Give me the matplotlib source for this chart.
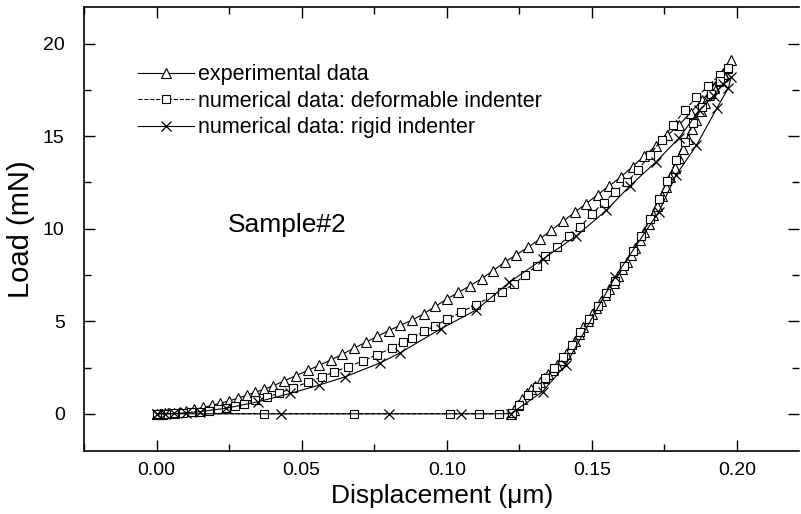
import matplotlib.pyplot as plt
from matplotlib.ticker import MultipleLocator

plt.rcParams['font.family'] = ['Liberation Sans', 'DejaVu Sans']

# experimental data: loading then unloading
exp_x = [0.000, 0.001, 0.002, 0.003, 0.004, 0.006, 0.008, 0.010, 0.013, 0.016,
         0.019, 0.022, 0.025, 0.028, 0.031, 0.034, 0.037, 0.040, 0.044, 0.048,
         0.052, 0.056, 0.060, 0.064, 0.068, 0.072, 0.076, 0.080, 0.084, 0.088,
         0.092, 0.096, 0.100, 0.104, 0.108, 0.112, 0.116, 0.120, 0.124, 0.128,
         0.132, 0.136, 0.140, 0.144, 0.148, 0.152, 0.156, 0.160, 0.164, 0.168,
         0.172, 0.176, 0.180, 0.184, 0.188, 0.192, 0.195, 0.198,
         0.1965, 0.195, 0.1935, 0.192, 0.1905, 0.189, 0.1875, 0.186, 0.1845, 0.183,
         0.1815, 0.180, 0.1785, 0.177, 0.1755, 0.174, 0.1725, 0.171, 0.1695, 0.168,
         0.1665, 0.165, 0.1635, 0.162, 0.1605, 0.159, 0.1575, 0.156, 0.1545, 0.153,
         0.1515, 0.150, 0.1485, 0.147, 0.1455, 0.144, 0.1425, 0.141, 0.1395, 0.138,
         0.1365, 0.135, 0.1335, 0.132, 0.1305, 0.129, 0.1275, 0.126, 0.1245, 0.123,
         0.122]
exp_y = [0.00, 0.00, 0.01, 0.02, 0.03, 0.06, 0.10, 0.15, 0.24, 0.34,
         0.45, 0.57, 0.70, 0.84, 1.00, 1.16, 1.33, 1.50, 1.78, 2.06,
         2.34, 2.62, 2.90, 3.22, 3.54, 3.86, 4.18, 4.50, 4.78, 5.06,
         5.40, 5.80, 6.20, 6.56, 6.92, 7.30, 7.74, 8.20, 8.60, 9.00,
         9.44, 9.92, 10.40, 10.88, 11.36, 11.84, 12.32, 12.80, 13.36, 13.92,
         14.48, 15.04, 15.60, 16.28, 16.96, 17.64, 18.40, 19.10,
         18.70, 18.35, 17.98, 17.60, 17.22, 16.80, 16.35, 15.90, 15.38, 14.85,
         14.32, 13.80, 13.28, 12.78, 12.28, 11.75, 11.22, 10.72, 10.25, 9.80,
         9.38, 8.98, 8.58, 8.20, 7.82, 7.45, 7.08, 6.75, 6.41, 6.08,
         5.74, 5.40, 5.02, 4.68, 4.32, 3.95, 3.58, 3.22, 2.91, 2.65,
         2.38, 2.15, 1.92, 1.70, 1.52, 1.32, 1.10, 0.80, 0.50, 0.20,
         0.00]

# numerical data, deformable indenter: loading, unloading, zero segment
def_x = [0.000, 0.002, 0.004, 0.006, 0.009, 0.012, 0.015, 0.018, 0.021, 0.024,
         0.027, 0.030, 0.034, 0.038, 0.042, 0.047, 0.052, 0.057, 0.061, 0.066,
         0.071, 0.076, 0.081, 0.085, 0.088, 0.092, 0.096, 0.100, 0.105, 0.110,
         0.115, 0.119, 0.123, 0.127, 0.131, 0.134, 0.138, 0.142, 0.146, 0.150,
         0.154, 0.158, 0.162, 0.166, 0.170, 0.174, 0.178, 0.182, 0.186, 0.190,
         0.194, 0.197,
         0.194, 0.191, 0.188, 0.185, 0.182, 0.179, 0.176, 0.173, 0.170, 0.167,
         0.164, 0.161, 0.158, 0.155, 0.152, 0.149, 0.146, 0.143, 0.140, 0.137,
         0.134, 0.131, 0.128, 0.125, 0.1225,
         0.118, 0.111, 0.101, 0.068, 0.037, 0.000]
def_y = [0.00, 0.00, 0.01, 0.02, 0.04, 0.07, 0.11, 0.17, 0.24, 0.32,
         0.42, 0.55, 0.72, 0.90, 1.10, 1.40, 1.70, 2.00, 2.25, 2.55,
         2.85, 3.20, 3.55, 3.90, 4.10, 4.45, 4.75, 5.10, 5.50, 5.90,
         6.30, 6.60, 7.00, 7.50, 8.00, 8.50, 9.00, 9.60, 10.10, 10.80,
         11.40, 12.00, 12.50, 13.20, 14.00, 14.80, 15.60, 16.40, 17.10, 17.70,
         18.30, 18.70,
         18.00, 17.30, 16.60, 15.70, 14.70, 13.70, 12.60, 11.60, 10.50, 9.60,
         8.80, 8.00, 7.20, 6.50, 5.80, 5.10, 4.40, 3.70, 3.05, 2.45,
         1.95, 1.45, 1.00, 0.50, 0.05,
         0.00, 0.00, 0.00, 0.00, 0.00, 0.00]

# numerical data, rigid indenter: loading, unloading, zero segment
rig_x = [0.000, 0.003, 0.006, 0.010, 0.015, 0.024, 0.035, 0.046, 0.056, 0.065,
         0.077, 0.084, 0.098, 0.110, 0.1215, 0.133, 0.1445, 0.155, 0.163, 0.172,
         0.180, 0.187, 0.192, 0.195, 0.198,
         0.197, 0.193, 0.186, 0.179, 0.173, 0.158, 0.141, 0.133, 0.122,
         0.105, 0.080, 0.043, 0.000]
rig_y = [0.00, 0.00, 0.02, 0.05, 0.12, 0.30, 0.65, 1.10, 1.55, 2.00,
         2.75, 3.30, 4.60, 5.60, 7.10, 8.35, 9.60, 11.00, 12.30, 13.60,
         14.90, 16.40, 17.20, 17.80, 18.20,
         17.60, 16.50, 14.50, 12.90, 10.90, 7.40, 2.65, 1.20, 0.00,
         0.00, 0.00, 0.00, 0.00]

labels = ["experimental data", "numerical data: deformable indenter", "numerical data: rigid indenter"]

fig = plt.figure(figsize=(8.01, 5.14), dpi=100)
ax = fig.add_axes([0.105, 0.123, 0.893, 0.864])

ax.plot(exp_x, exp_y, color='black', lw=0.8, ls='-', marker='^', ms=7,
        mfc='white', mec='black', mew=0.8, label=labels[0])
ax.plot(def_x, def_y, color='black', lw=0.8, ls='--', marker='s', ms=5.5,
        mfc='white', mec='black', mew=0.8, label=labels[1])
ax.plot(rig_x, rig_y, color='black', lw=0.8, ls='-', marker='x', ms=7,
        mec='black', mew=0.9, label=labels[2])

ax.set_xlim(-0.025, 0.2215)
ax.set_ylim(-2, 22)
ax.xaxis.set_major_locator(MultipleLocator(0.05))
ax.xaxis.set_minor_locator(MultipleLocator(0.025))
ax.yaxis.set_major_locator(MultipleLocator(5))
ax.yaxis.set_minor_locator(MultipleLocator(2.5))
ax.xaxis.set_major_formatter(plt.FormatStrFormatter('%.2f'))
ax.tick_params(which='both', direction='in', top=True, right=True, labelsize=14, width=1.0)
ax.tick_params(which='major', length=8)
ax.tick_params(which='minor', length=5)
ax.tick_params(axis='x', which='major', pad=8)
ax.tick_params(axis='y', which='major', pad=14)
for s in ax.spines.values():
    s.set_linewidth(1.2)
ax.spines['right'].set_visible(False)

ax.set_xlabel("Displacement (\u03bcm)", fontsize=19, labelpad=4)
ax.set_ylabel("Load (mN)", fontsize=21, labelpad=6)

ax.text(0.045, 10.2, "Sample#2", fontsize=19, ha='center', va='center')

ax.legend(loc='upper left', bbox_to_anchor=(0.064, 0.89), frameon=False, fontsize=15.5,
          handlelength=2.6, handletextpad=0.15, labelspacing=0.26, borderaxespad=0)

plt.savefig("out.png", dpi=100)
